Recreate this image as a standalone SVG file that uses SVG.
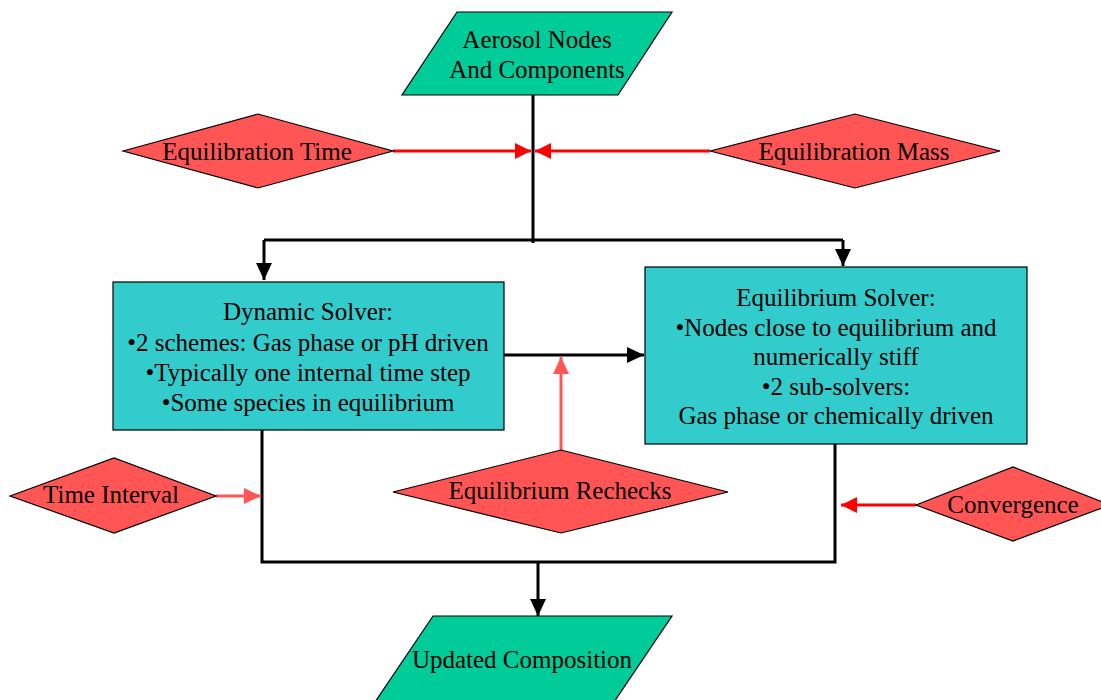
<svg xmlns="http://www.w3.org/2000/svg" width="1101" height="700" viewBox="0 0 1101 700">
<style>
.io{fill:#00CC99;stroke:#000;stroke-width:1.2}
.dec{fill:#FF5555;stroke:#000;stroke-width:1.2}
.box{fill:#33CCCC;stroke:#000;stroke-width:1.2}
.t{font-family:"Liberation Serif","Times New Roman",serif;font-size:25px;fill:#000;text-anchor:middle}
.k{fill:none;stroke:#000;stroke-width:3}
.r{fill:none;stroke:#FF0000;stroke-width:3}
.p{fill:none;stroke:#FF5555;stroke-width:3}
</style>
<defs>
<marker id="ak" markerUnits="userSpaceOnUse" markerWidth="18" markerHeight="16" refX="17" refY="8" orient="auto"><path d="M0,0 L17,8 L0,16 Z" fill="#000"/></marker>
<marker id="ar" markerUnits="userSpaceOnUse" markerWidth="17" markerHeight="16" refX="16" refY="8" orient="auto"><path d="M0,0 L16,8 L0,16 Z" fill="#FF0000"/></marker>
<marker id="ap" markerUnits="userSpaceOnUse" markerWidth="18" markerHeight="16" refX="17" refY="8" orient="auto"><path d="M0,0 L17,8 L0,16 Z" fill="#FF5555"/></marker>
</defs>
<g id="connectors">
<path class="k" d="M533,95 V243"/>
<path class="k" d="M264,240 H843"/>
<path class="k" d="M264,240 V280" marker-end="url(#ak)"/>
<path class="k" d="M843,240 V266" marker-end="url(#ak)"/>
<path class="k" d="M504,355 H644" marker-end="url(#ak)"/>
<path class="k" d="M262,430 V562 H835 V444"/>
<path class="k" d="M538,562 V616" marker-end="url(#ak)"/>
<path class="r" d="M393,151 H531" marker-end="url(#ar)"/>
<path class="r" d="M710,151 H535" marker-end="url(#ar)"/>
<path class="p" d="M561,450 V357" marker-end="url(#ap)"/>
<path class="p" d="M216,496 H261" marker-end="url(#ap)"/>
<path class="r" d="M916,505 H841" marker-end="url(#ar)"/>
</g>
<g id="aerosol-nodes">
<polygon class="io" points="457,12 672,12 618,95 402,95"/>
<text class="t" x="537" y="48">Aerosol Nodes</text>
<text class="t" x="537" y="78">And Components</text>
</g>
<g id="equilibration-time">
<polygon class="dec" points="123,151 258,114 393,151 258,188"/>
<text class="t" x="257" y="160">Equilibration Time</text>
</g>
<g id="equilibration-mass">
<polygon class="dec" points="710,151 855,114 1000,151 855,188"/>
<text class="t" x="854" y="160">Equilibration Mass</text>
</g>
<g id="dynamic-solver">
<rect class="box" x="113" y="282" width="391" height="148"/>
<text class="t" x="308" y="320">Dynamic Solver:</text>
<text class="t" x="308" y="351">•2 schemes: Gas phase or pH driven</text>
<text class="t" x="308" y="381">•Typically one internal time step</text>
<text class="t" x="308" y="411">•Some species in equilibrium</text>
</g>
<g id="equilibrium-solver">
<rect class="box" x="645" y="267" width="382" height="177"/>
<text class="t" x="836" y="306">Equilibrium Solver:</text>
<text class="t" x="836" y="336">•Nodes close to equilibrium and</text>
<text class="t" x="836" y="365">numerically stiff</text>
<text class="t" x="836" y="395">•2 sub-solvers:</text>
<text class="t" x="836" y="424">Gas phase or chemically driven</text>
</g>
<g id="time-interval">
<polygon class="dec" points="10,496 114,458 216,496 114,533"/>
<text class="t" x="111" y="503">Time Interval</text>
</g>
<g id="equilibrium-rechecks">
<polygon class="dec" points="393,492 561,450 728,492 561,533"/>
<text class="t" x="560" y="499">Equilibrium Rechecks</text>
</g>
<g id="convergence">
<polygon class="dec" points="916,505 1013,467 1110,505 1013,541"/>
<text class="t" x="1013" y="513">Convergence</text>
</g>
<g id="updated-composition">
<polygon class="io" points="433,616 672,616 614,702 375,702"/>
<text class="t" x="522" y="668">Updated Composition</text>
</g>
</svg>
